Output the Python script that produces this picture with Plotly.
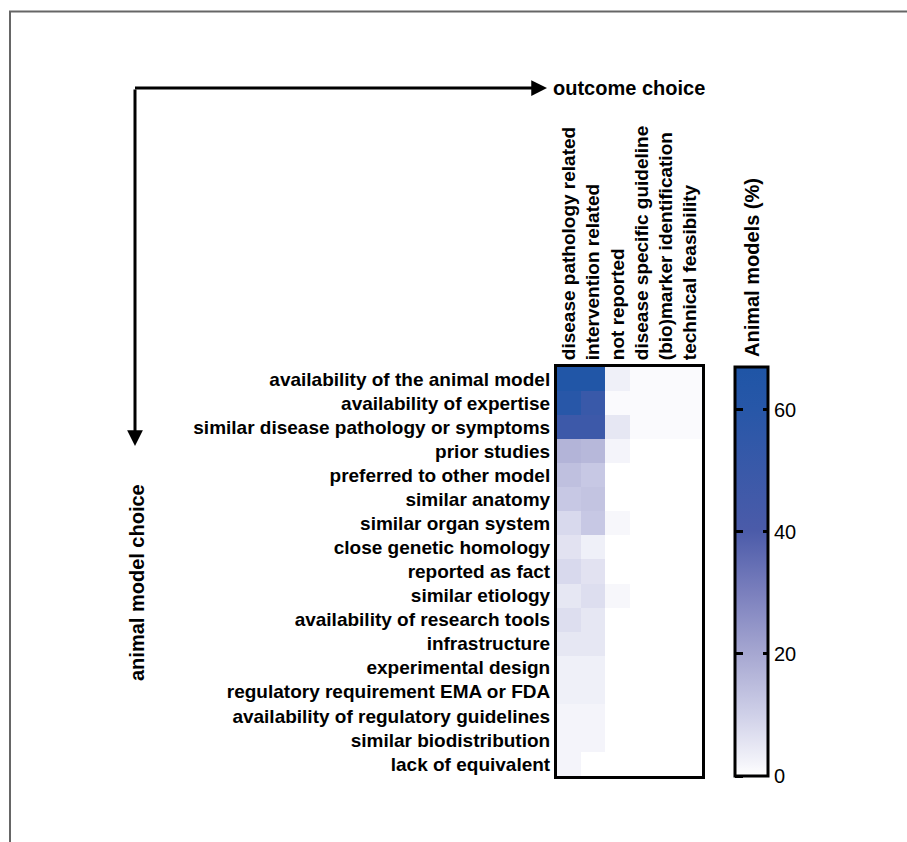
import plotly.graph_objects as go

W, H = 907, 842

# outcome choice categories (columns)
outcomes = [
    "disease pathology related",
    "intervention related",
    "not reported",
    "disease specific guideline",
    "(bio)marker identification",
    "technical feasibility",
]

# animal model choice categories (rows, top to bottom)
model_choices = [
    "availability of the animal model",
    "availability of expertise",
    "similar disease pathology or symptoms",
    "prior studies",
    "preferred to other model",
    "similar anatomy",
    "similar organ system",
    "close genetic homology",
    "reported as fact",
    "similar etiology",
    "availability of research tools",
    "infrastructure",
    "experimental design",
    "regulatory requirement EMA or FDA",
    "availability of regulatory guidelines",
    "similar biodistribution",
    "lack of equivalent",
]

# share of animal models (%) per outcome column
disease_pathology = [65, 60, 48, 17, 14, 12, 8, 6, 8, 5, 7, 5, 3, 3, 2, 2, 2]
intervention = [65, 50, 48, 16, 12, 13, 12, 3, 6, 7, 5, 5, 3, 3, 2, 2, 0]
not_reported = [3, 1, 5, 2, 0, 0, 1.5, 0, 0, 1.5, 0, 0, 0, 0, 0, 0, 0]
disease_guideline = [1, 1, 1, 0, 0, 0, 0, 0, 0, 0, 0, 0, 0, 0, 0, 0, 0]
biomarker = [1, 1, 1, 0, 0, 0, 0, 0, 0, 0, 0, 0, 0, 0, 0, 0, 0]
feasibility = [1, 1, 1, 0, 0, 0, 0, 0, 0, 0, 0, 0, 0, 0, 0, 0, 0]

columns = [disease_pathology, intervention, not_reported,
           disease_guideline, biomarker, feasibility]
z = [[col[i] for col in columns] for i in range(len(model_choices))]

colorbar_ticks = [0, 20, 40, 60]
z_max = 67


def px_x(p):
    return p / W


def px_y(p):
    return 1 - p / H


FONT = "Liberation Sans"
TICK_FONT = dict(family=FONT, size=19, color="black", weight="bold")
LABEL_FONT = dict(family=FONT, size=20, color="black", weight="bold")

# heatmap block geometry (pixels)
hm_left, hm_right, hm_top, hm_bottom = 557, 702, 367, 776
cb_left, cb_thick = 735, 33

scale = [
    [0.0, "#ffffff"],
    [0.03, "#f4f4fa"],
    [0.15, "#cfd0e8"],
    [0.30, "#a6a7d1"],
    [0.45, "#7a7fbd"],
    [0.60, "#4b5ba9"],
    [0.90, "#2757a8"],
    [1.0, "#1f55a6"],
]

clear = [[0, "rgba(0,0,0,0)"], [1, "rgba(0,0,0,0)"]]

common_cb = dict(
    xanchor="left",
    xpad=0,
    y=px_y(hm_bottom),
    yanchor="bottom",
    ypad=0,
    lenmode="pixels",
    len=hm_bottom - hm_top,
    thicknessmode="pixels",
    tickvals=colorbar_ticks,
    tickwidth=2.5,
    tickcolor="black",
)

fig = go.Figure()

# main heatmap with its colour bar (ticks on the right edge)
fig.add_trace(
    go.Heatmap(
        z=z,
        x=outcomes,
        y=model_choices,
        zmin=0,
        zmax=z_max,
        colorscale=scale,
        colorbar=dict(
            **common_cb,
            x=px_x(cb_left),
            thickness=cb_thick,
            outlinewidth=3,
            outlinecolor="black",
            ticks="inside",
            ticklen=6,
            tickprefix="\u00a0\u00a0\u00a0",
            tickfont=dict(family=FONT, size=20, color="black"),
        ),
        hoverongaps=False,
    )
)

# transparent copy whose colour bar only contributes the left-edge ticks
fig.add_trace(
    go.Heatmap(
        z=z,
        x=outcomes,
        y=model_choices,
        zmin=0,
        zmax=z_max,
        colorscale=clear,
        hoverinfo="skip",
        colorbar=dict(
            **common_cb,
            x=px_x(cb_left - 10),
            thickness=10,
            outlinewidth=0,
            ticks="outside",
            ticklen=8,
            showticklabels=False,
        ),
    )
)

fig.update_layout(
    width=W,
    height=H,
    margin=dict(l=0, r=0, t=0, b=0),
    paper_bgcolor="white",
    plot_bgcolor="white",
    xaxis=dict(
        domain=[px_x(hm_left), px_x(hm_right)],
        side="top",
        tickangle=-90,
        tickfont=TICK_FONT,
        showline=True,
        mirror=True,
        linewidth=3,
        linecolor="black",
        showgrid=False,
        ticks="",
        ticklen=0,
        fixedrange=True,
    ),
    yaxis=dict(
        domain=[px_y(hm_bottom), px_y(hm_top)],
        autorange="reversed",
        tickfont=TICK_FONT,
        showline=True,
        mirror=True,
        linewidth=3,
        linecolor="black",
        showgrid=False,
        ticks="",
        ticklen=0,
        fixedrange=True,
    ),
    shapes=[
        # outer frame: left and top rules
        dict(type="line", xref="paper", yref="paper",
             x0=px_x(10), x1=px_x(10), y0=px_y(11), y1=0,
             line=dict(color="#666666", width=2)),
        dict(type="line", xref="paper", yref="paper",
             x0=px_x(9), x1=1, y0=px_y(11.5), y1=px_y(11.5),
             line=dict(color="#666666", width=2)),
    ],
    annotations=[
        # horizontal arrow toward outcome choice
        dict(x=px_x(547), y=px_y(88), xref="paper", yref="paper",
             ax=-(547 - 133.5), ay=0, axref="pixel", ayref="pixel",
             text="", showarrow=True, arrowhead=2, arrowsize=1.05,
             arrowwidth=3, arrowcolor="black", standoff=0),
        # vertical arrow toward animal model choice
        dict(x=px_x(135), y=px_y(446), xref="paper", yref="paper",
             ax=0, ay=-(446 - 88), axref="pixel", ayref="pixel",
             text="", showarrow=True, arrowhead=2, arrowsize=1.05,
             arrowwidth=3, arrowcolor="black", standoff=0),
        dict(x=px_x(551), y=px_y(88), xref="paper", yref="paper",
             text="outcome choice", showarrow=False,
             xanchor="left", yanchor="middle", font=LABEL_FONT),
        dict(x=px_x(137), y=px_y(583), xref="paper", yref="paper",
             text="animal model choice", showarrow=False, textangle=-90,
             xanchor="center", yanchor="middle", font=LABEL_FONT),
        dict(x=px_x(751.5), y=px_y(359), xref="paper", yref="paper",
             text="Animal models (%)", showarrow=False, textangle=-90,
             xanchor="center", yanchor="bottom", font=LABEL_FONT),
    ],
)

fig.write_html("out.html")
